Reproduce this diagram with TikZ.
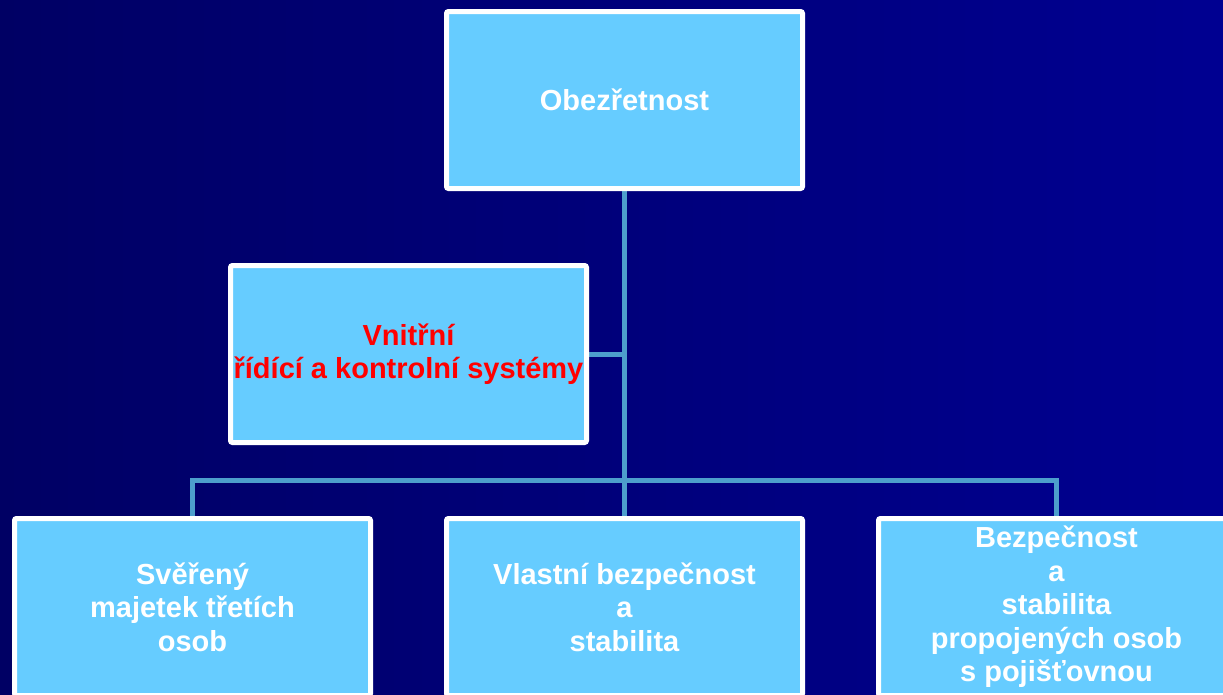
\documentclass[tikz,border=0pt]{standalone}
\usepackage{fontspec}
\setmainfont{Liberation Sans}
\definecolor{bgleft}{RGB}{0,0,100}
\definecolor{bgright}{RGB}{0,0,145}
\definecolor{boxfill}{RGB}{102,204,255}
\definecolor{linkcol}{RGB}{77,158,204}
\pgfdeclarelayer{back}
\pgfdeclarelayer{links}
\pgfsetlayers{back,links,main}
\tikzset{
  orgbox/.style={draw=white, line width=5pt, fill=boxfill, rounded corners=2pt,
    minimum width=356pt, minimum height=177pt, inner sep=0pt, align=center,
    text=white, font=\bfseries\fontsize{29}{33.5}\selectfont},
  redtext/.style={text=red},
  link/.style={draw=linkcol, line width=5pt}
}
\begin{document}
\begin{tikzpicture}[x=1pt,y=-1pt]
\useasboundingbox (0,0) rectangle (1223,694);
\clip (0,0) rectangle (1223,694);
\begin{pgfonlayer}{back}
\shade[left color=bgleft, right color=bgright] (0,0) rectangle (1223,694);
\end{pgfonlayer}
% boxes
\node[orgbox] (top) at (624.5,100) {Obezřetnost};
\node[orgbox, redtext] (mid) at (408.5,354) {Vnitřní\\řídící a kontrolní systémy};
\node[orgbox] (bl) at (192.5,607) {Svěřený\\majetek třetích\\osob};
\node[orgbox] (bm) at (624.5,607) {Vlastní bezpečnost\\a\\stabilita};
\node[orgbox] (br) at (1056.5,607) {Bezpečnost\\a\\stabilita\\propojených osob\\s pojišťovnou};
\coordinate (bar) at (624.5,480.5);
% connectors (behind boxes)
\begin{pgfonlayer}{links}
\path[link] (top.south) -- (bm.north);
\path[link] (mid.east) -- (mid.east -| top.south);
\path[link] (bl.north) |- (bar) -| (br.north);
\end{pgfonlayer}
\end{tikzpicture}
\end{document}
